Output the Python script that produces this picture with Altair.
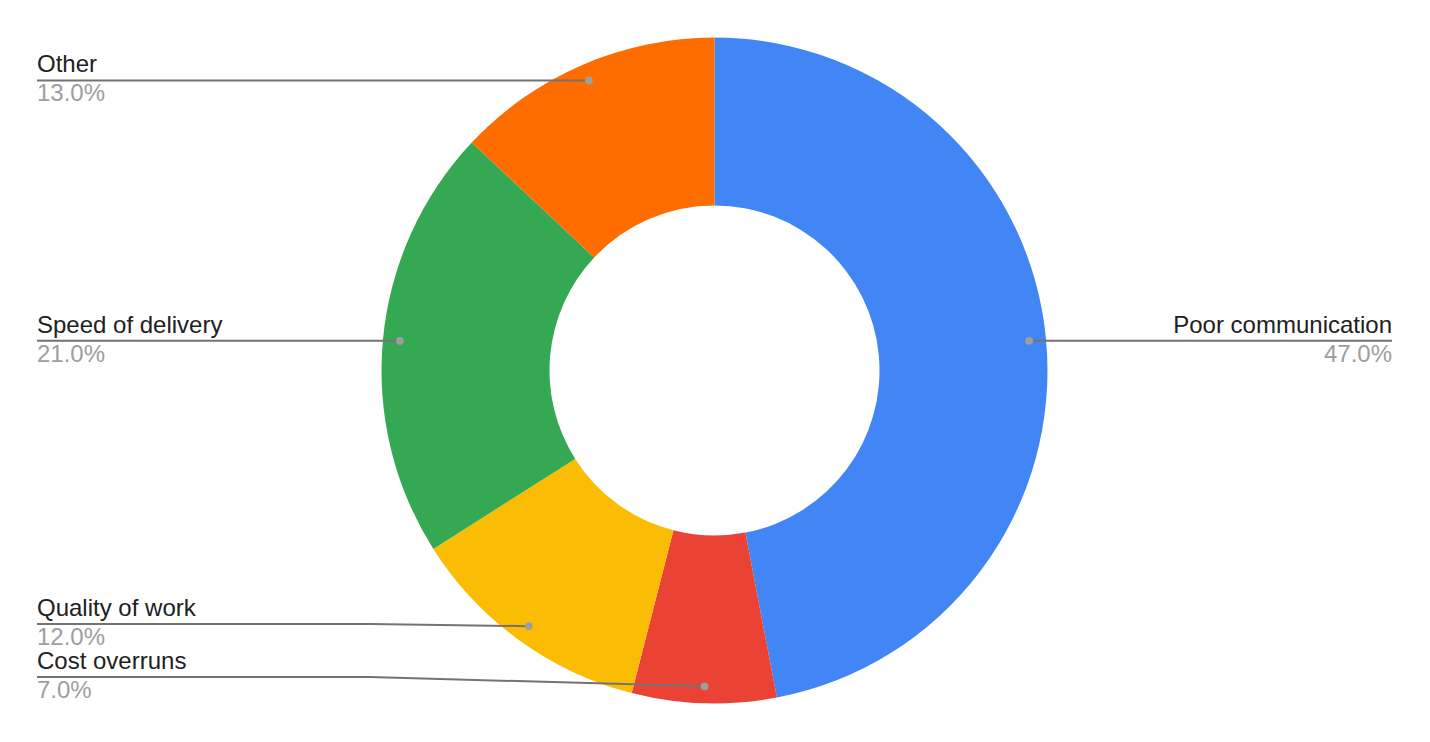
import numpy as np
import pandas as pd
import altair as alt

# Share of responses per category, clockwise from 12 o'clock
categories = ["Poor communication", "Cost overruns", "Quality of work", "Speed of delivery", "Other"]
shares = [47.0, 7.0, 12.0, 21.0, 13.0]
colors = ["#4285F4", "#EA4335", "#FBBC04", "#34A853", "#FF6D01"]

# Canvas and ring geometry (pixels)
W, H = 1429, 741
CX, CY = W / 2, H / 2
R_OUT, R_IN, R_DOT = 333, 165, 316

# Label layout: which side each label sits on, and an optional line height
# for labels nudged apart (None keeps the leader level with its anchor dot)
label_side = ["right", "left", "left", "left", "left"]
label_line_y = [None, 677, 624, None, None]
LEFT_X, RIGHT_X, BEND_X = 37, 1392, 370

FONT = "Liberation Sans"
FONT_SIZE = 24

vals = np.array(shares)
cum = np.cumsum(vals)
mid = (cum - vals / 2) / vals.sum() * 2 * np.pi
dot_x = CX + R_DOT * np.sin(mid)
dot_y = CY - R_DOT * np.cos(mid)

slices = pd.DataFrame({"category": categories, "share": shares, "idx": range(len(categories))})

dots, pts, labels = [], [], []
for i, cat in enumerate(categories):
    side = label_side[i]
    ly = dot_y[i] if label_line_y[i] is None else label_line_y[i]
    end_x = LEFT_X if side == "left" else RIGHT_X
    dots.append({"category": cat, "x": dot_x[i], "y": dot_y[i]})
    path = [(dot_x[i], dot_y[i])]
    if label_line_y[i] is not None:
        path.append((BEND_X, ly))
    path.append((end_x, ly))
    for k, (px, py) in enumerate(path):
        pts.append({"category": cat, "seq": k, "x": px, "y": py})
    labels.append({
        "category": cat, "side": side, "x": end_x,
        "name_y": ly - 8, "pct_y": ly + 21, "pct": f"{shares[i]:.1f}%",
    })

dots = pd.DataFrame(dots)
pts = pd.DataFrame(pts)
labels = pd.DataFrame(labels)

xs = alt.Scale(domain=[0, W], nice=False, zero=False)
ys = alt.Scale(domain=[0, H], nice=False, zero=False, reverse=True)

ring = alt.Chart(slices).mark_arc(innerRadius=R_IN, outerRadius=R_OUT).encode(
    theta=alt.Theta("share:Q", stack=True),
    color=alt.Color("category:N", scale=alt.Scale(domain=categories, range=colors), legend=None),
    order=alt.Order("idx:Q"),
)

leaders = alt.Chart(pts).mark_line(color="#737373", strokeWidth=2).encode(
    x=alt.X("x:Q", scale=xs, axis=None),
    y=alt.Y("y:Q", scale=ys, axis=None),
    detail="category:N",
    order="seq:Q",
)

anchor = alt.Chart(dots).mark_circle(size=60, color="#9E9E9E", opacity=1).encode(
    x=alt.X("x:Q", scale=xs, axis=None),
    y=alt.Y("y:Q", scale=ys, axis=None),
)


def label_layers(side, align):
    base = alt.Chart(labels).transform_filter(alt.datum.side == side)
    name = base.mark_text(align=align, baseline="alphabetic", font=FONT,
                          fontSize=FONT_SIZE, color="#212121").encode(
        x=alt.X("x:Q", scale=xs, axis=None),
        y=alt.Y("name_y:Q", scale=ys, axis=None),
        text="category:N",
    )
    pct = base.mark_text(align=align, baseline="alphabetic", font=FONT,
                         fontSize=FONT_SIZE, color="#9E9E9E").encode(
        x=alt.X("x:Q", scale=xs, axis=None),
        y=alt.Y("pct_y:Q", scale=ys, axis=None),
        text="pct:N",
    )
    return [name, pct]


chart = alt.layer(
    ring, leaders, anchor,
    *label_layers("left", "left"),
    *label_layers("right", "right"),
).properties(
    width=W, height=H, padding=0, autosize=alt.AutoSizeParams(type="none"),
    background="white",
).configure_view(stroke=None)

chart.save("out.html", embed_options={"renderer": "svg", "actions": False})
